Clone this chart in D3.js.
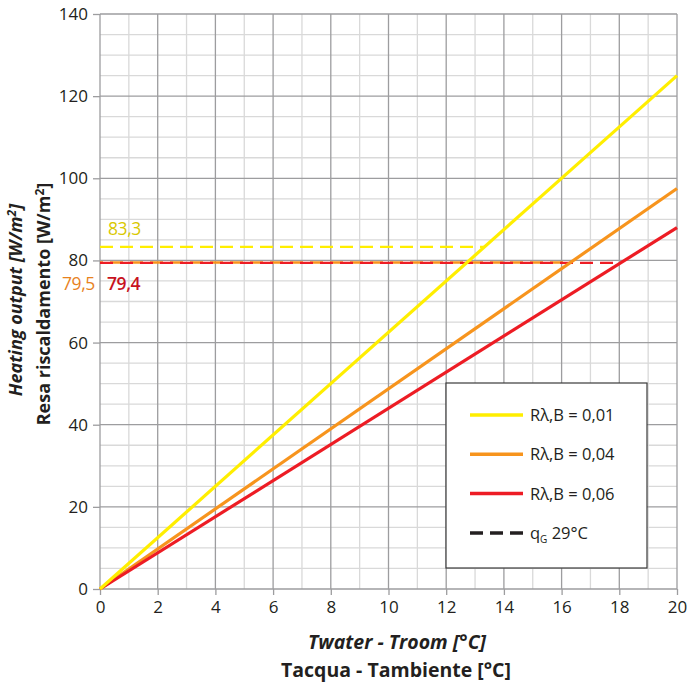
<!DOCTYPE html>
<html><head><meta charset="utf-8">
<script src="https://cdn.jsdelivr.net/npm/d3@7"></script>
<style>body{margin:0;background:#fff}svg{display:block;font-family:"Open Sans","Noto Sans",sans-serif}</style>
</head><body><svg id="c" width="689" height="686"></svg>
<script>
// Heating output vs. temperature difference for three floor resistances
const xDomain = [0, 20];
const yDomain = [0, 140];
const xTicks = [0, 2, 4, 6, 8, 10, 12, 14, 16, 18, 20];
const yTicks = [0, 20, 40, 60, 80, 100, 120, 140];
const seriesNames = ["Rλ,B = 0,01", "Rλ,B = 0,04", "Rλ,B = 0,06"];
const seriesColors = ["#ffee00", "#f7941d", "#ed1c24"];
const outputAt20 = [125, 97.5, 88];          // W/m² at ΔT = 20 °C
const limitValues = [83.3, 79.5, 79.4];      // q_G at 29 °C floor
const limitLabels = ["83,3", "79,5", "79,4"];
const labelColors = ["#d9c800", "#e8821e", "#c8121e"];

const svg = d3.select("#c");
const L = 100, R = 677, T = 14, B = 589;
const x = d3.scaleLinear().domain(xDomain).range([L, R]);
const y = d3.scaleLinear().domain(yDomain).range([B, T]);

// minor grid
const g = svg.append("g");
g.selectAll(".vx").data(d3.range(1, 20, 2)).join("line")
  .attr("x1", d => x(d)).attr("x2", d => x(d)).attr("y1", T).attr("y2", B)
  .attr("stroke", "#d9d9d9").attr("stroke-width", 1.3);
g.selectAll(".hy").data(d3.range(5, 140, 5).filter(v => v % 20 !== 0)).join("line")
  .attr("y1", d => y(d)).attr("y2", d => y(d)).attr("x1", L).attr("x2", R)
  .attr("stroke", "#d9d9d9").attr("stroke-width", 1.3);
// major grid
g.selectAll(".mx").data(xTicks).join("line")
  .attr("x1", d => x(d)).attr("x2", d => x(d)).attr("y1", T).attr("y2", B)
  .attr("stroke", "#9d9d9f").attr("stroke-width", 1.3);
g.selectAll(".my").data(yTicks).join("line")
  .attr("y1", d => y(d)).attr("y2", d => y(d)).attr("x1", L).attr("x2", R)
  .attr("stroke", "#9d9d9f").attr("stroke-width", 1.3);

// axes
const xAxis = svg.append("g").attr("transform", `translate(0,${B})`)
  .call(d3.axisBottom(x).tickValues(xTicks).tickSize(6).tickPadding(6).tickFormat(d3.format("d")));
const yAxis = svg.append("g").attr("transform", `translate(${L},0)`)
  .call(d3.axisLeft(y).tickValues(yTicks).tickSize(7).tickPadding(5).tickFormat(d3.format("d")));
[xAxis, yAxis].forEach(a => {
  a.select(".domain").remove();
  a.selectAll(".tick line").attr("stroke", "#9d9d9f").attr("stroke-width", 1.3);
  a.selectAll(".tick text").attr("fill", "#231f20").style("font-size", "17px")
    .style("font-family", '"Open Sans","Noto Sans",sans-serif');
});

// limit lines (dashed) up to their intersection with each curve
const slopes = outputAt20.map(v => v / 20);
[1, 2, 0].forEach(i => {
  svg.append("line")
    .attr("x1", x(0)).attr("x2", x(limitValues[i] / slopes[i]))
    .attr("y1", y(limitValues[i])).attr("y2", y(limitValues[i]))
    .attr("stroke", seriesColors[i]).attr("stroke-width", 2.4)
    .attr("stroke-dasharray", "13,7")
    .attr("stroke-dashoffset", i === 1 ? 10 : 0);
});

// series lines
const line = d3.line().x(d => x(d[0])).y(d => y(d[1]));
[1, 2, 0].forEach(i => {
  svg.append("path").datum([[0, 0], [20, outputAt20[i]]])
    .attr("d", line).attr("fill", "none")
    .attr("stroke", seriesColors[i]).attr("stroke-width", 3.2);
});

// value labels
const lab = [[108, 235, 0], [62, 290, 1], [107, 290, 2]];
lab.forEach(([lx, ly, i]) => {
  svg.append("text").attr("x", lx).attr("y", ly).text(limitLabels[i])
    .attr("fill", labelColors[i]).style("font-size", "17.5px")
    .style("font-weight", i === 2 ? 600 : "normal")
    .style("letter-spacing", "-0.4px");
});

// legend
const lg = svg.append("g");
lg.append("rect").attr("x", 446).attr("y", 383).attr("width", 201).attr("height", 185)
  .attr("fill", "#fff").attr("stroke", "#3a3a3a").attr("stroke-width", 1.2);
const legendRows = [0, 1, 2, 3];
legendRows.forEach(r => {
  const ly = 415 + r * 39.3;
  lg.append("line").attr("x1", 470).attr("x2", 523).attr("y1", ly).attr("y2", ly)
    .attr("stroke", r < 3 ? seriesColors[r] : "#231f20").attr("stroke-width", 3.5)
    .attr("stroke-dasharray", r < 3 ? null : "13,7");
  if (r < 3) {
    lg.append("text").attr("x", 530).attr("y", ly + 6).text(seriesNames[r])
      .attr("fill", "#231f20").style("font-size", "16.5px");
  } else {
    const t = lg.append("text").attr("x", 530).attr("y", ly + 6)
      .attr("fill", "#231f20").style("font-size", "16.5px");
    t.append("tspan").text("q");
    t.append("tspan").text("G").attr("dy", 4).style("font-size", "10px");
    t.append("tspan").text(" 29°C").attr("dy", -4);
  }
});

// axis titles
svg.append("text").attr("transform", "translate(22,300) rotate(-90)")
  .attr("text-anchor", "middle").attr("fill", "#231f20")
  .style("font-size", "18px").style("font-weight", "bold").style("font-style", "italic")
  .html('Heating output [W/m<tspan dy="-6" font-size="12">2</tspan><tspan dy="6">]</tspan>');
svg.append("text").attr("transform", "translate(50,304) rotate(-90)")
  .attr("text-anchor", "middle").attr("fill", "#231f20")
  .style("font-size", "18px").style("font-weight", "bold")
  .html('Resa riscaldamento [W/m<tspan dy="-6" font-size="12">2</tspan><tspan dy="6">]</tspan>');
svg.append("text").attr("x", 397).attr("y", 649).attr("text-anchor", "middle")
  .attr("fill", "#231f20").style("font-size", "19.5px").style("font-weight", "bold")
  .style("font-style", "italic").text("Twater - Troom [°C]");
svg.append("text").attr("x", 396).attr("y", 677).attr("text-anchor", "middle")
  .attr("fill", "#231f20").style("font-size", "19.5px").style("font-weight", "bold")
  .text("Tacqua - Tambiente [°C]");
</script></body></html>
